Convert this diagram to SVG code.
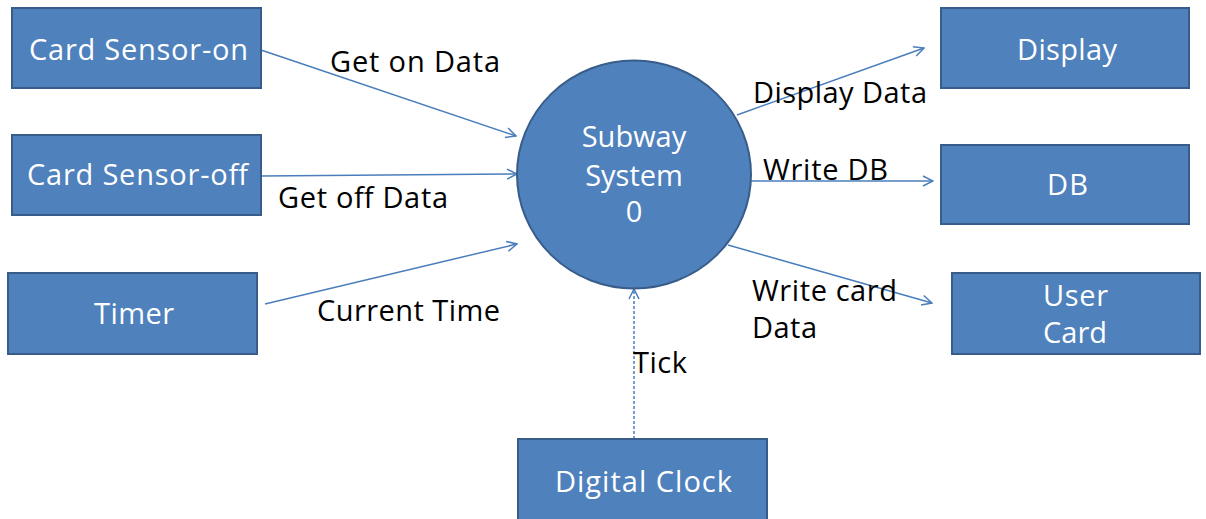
<svg xmlns="http://www.w3.org/2000/svg" width="1206" height="519" viewBox="0 0 1206 519">
<style>
.box{fill:#4F81BD;stroke:#385D8A;stroke-width:2}
.nt{fill:#FFFFFF;font-family:"Open Sans","Liberation Sans",sans-serif;font-size:29px}
.lb{fill:#000000;font-family:"Open Sans","Liberation Sans",sans-serif;font-size:29px}
.cn{fill:none;stroke:#4A7EBB;stroke-width:1.5}
</style>
<defs>
<marker id="ah" viewBox="0 0 12 12" refX="11" refY="6" markerWidth="12" markerHeight="12" markerUnits="userSpaceOnUse" orient="auto">
<path d="M1,1 L11,6 L1,11" fill="none" stroke="#4A7EBB" stroke-width="1.5"/>
</marker>
</defs>
<rect width="1206" height="519" fill="#FFFFFF"/>
<g id="connectors">
<line class="cn" x1="261" y1="50" x2="516" y2="136" marker-end="url(#ah)"/>
<line class="cn" x1="261" y1="176" x2="517" y2="174" marker-end="url(#ah)"/>
<line class="cn" x1="265" y1="304" x2="517" y2="244" marker-end="url(#ah)"/>
<line class="cn" x1="737" y1="115" x2="924" y2="48" marker-end="url(#ah)"/>
<line class="cn" x1="750" y1="181" x2="933" y2="181" marker-end="url(#ah)"/>
<line class="cn" x1="728" y1="245" x2="932" y2="303" marker-end="url(#ah)"/>
<line class="cn" x1="634" y1="439" x2="634" y2="289" stroke-dasharray="3,2" marker-end="url(#ah)"/>
<text class="lb" x="330" y="72" textLength="170">Get on Data</text>
<text class="lb" x="278" y="208" textLength="170">Get off Data</text>
<text class="lb" x="317" y="321" textLength="183">Current Time</text>
<text class="lb" x="753" y="103" textLength="174">Display Data</text>
<text class="lb" x="763" y="180" textLength="125">Write DB</text>
<text class="lb" x="752" y="301" textLength="145">Write card</text>
<text class="lb" x="752" y="338" textLength="65">Data</text>
<text class="lb" x="633" y="373" textLength="54">Tick</text>
</g>
<g id="card-sensor-on">
<rect class="box" x="12" y="8" width="249" height="80"/>
<text class="nt" x="29" y="60" textLength="219">Card Sensor-on</text>
</g>
<g id="card-sensor-off">
<rect class="box" x="12" y="135" width="249" height="80"/>
<text class="nt" x="27" y="185" textLength="221">Card Sensor-off</text>
</g>
<g id="timer">
<rect class="box" x="8" y="273" width="249" height="81"/>
<text class="nt" x="94" y="324" textLength="80">Timer</text>
</g>
<g id="subway-system">
<ellipse cx="634" cy="174.5" rx="117" ry="114" fill="#4F81BD" stroke="#385D8A" stroke-width="2"/>
<text class="nt" x="634" y="147" text-anchor="middle">Subway</text>
<text class="nt" x="634" y="186" text-anchor="middle">System</text>
<text class="nt" x="634" y="222" text-anchor="middle">0</text>
</g>
<g id="display">
<rect class="box" x="941" y="8" width="248" height="80"/>
<text class="nt" x="1017" y="60" textLength="100">Display</text>
</g>
<g id="db">
<rect class="box" x="941" y="145" width="248" height="79"/>
<text class="nt" x="1047" y="195" textLength="41">DB</text>
</g>
<g id="user-card">
<rect class="box" x="952" y="273" width="248" height="81"/>
<text class="nt" x="1043" y="306" textLength="65">User</text>
<text class="nt" x="1043" y="343" textLength="64">Card</text>
</g>
<g id="digital-clock">
<rect class="box" x="518" y="439" width="249" height="84"/>
<text class="nt" x="555" y="492" textLength="177">Digital Clock</text>
</g>
</svg>
